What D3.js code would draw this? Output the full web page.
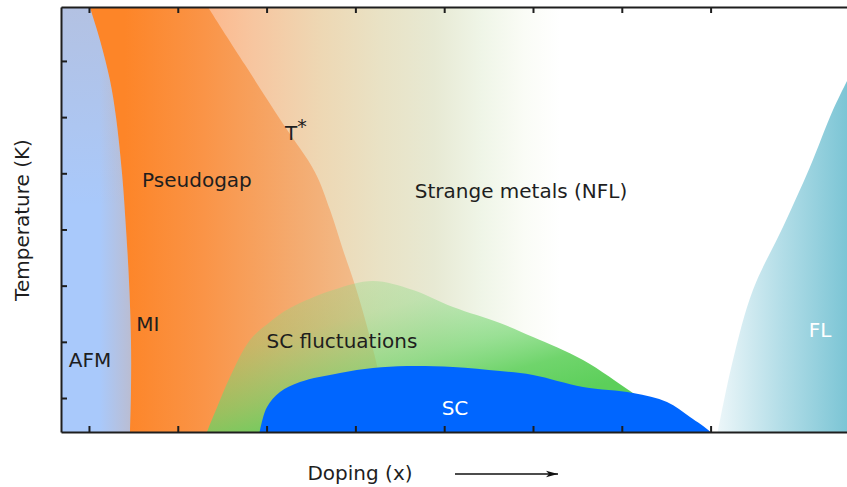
<!DOCTYPE html>
<html>
<head>
<meta charset="utf-8">
<script src="https://cdn.jsdelivr.net/npm/d3@7"></script>
<style>
  body { margin: 0; background: #fff; }
  svg { display: block; }
  text { font-family: "DejaVu Sans", sans-serif; }
</style>
</head>
<body>
<svg id="chart" width="847" height="487"></svg>
<script>
// Tick positions (unlabelled) on doping and temperature axes
const xTicks = [1, 2, 3, 4, 5, 6, 7, 8];
const yTicks = [1, 2, 3, 4, 5, 6, 7];

// Phase boundaries, in doping / temperature units
const afmX = [0.97, 1.011, 1.124, 1.236, 1.304, 1.372, 1.417, 1.450, 1.473, 1.473, 1.462, 1.46];
const afmY = [8.2, 7.96, 7.37, 6.66, 6.00, 5.00, 4.01, 3.10, 2.03, 1.14, 0.40, 0.2];

const tStarX = [2.25, 2.340, 2.757, 3.185, 3.545, 3.714, 3.860, 3.995, 4.142, 4.277, 4.367];
const tStarY = [8.2, 7.96, 6.93, 5.88, 5.02, 4.35, 3.64, 3.01, 2.21, 1.32, 0.25];

const flucX = [2.30, 2.329, 2.453, 2.588, 2.813, 3.038, 3.264, 3.748, 4.198, 4.649, 5.099, 5.628, 6.000, 6.563, 7.126, 7.430];
const flucY = [0.25, 0.395, 0.876, 1.374, 2.033, 2.353, 2.602, 2.923, 3.083, 2.923, 2.620, 2.336, 2.086, 1.677, 1.090, 0.787];

const scX = [2.903, 2.926, 3.005, 3.151, 3.376, 3.827, 4.198, 4.581, 5.099, 5.628, 6.000, 6.563, 7.126, 7.509, 7.768, 8.016, 8.03];
const scY = [0.253, 0.431, 0.840, 1.107, 1.285, 1.446, 1.535, 1.570, 1.553, 1.481, 1.410, 1.196, 1.090, 0.930, 0.663, 0.360, 0.253];

const flX = [8.061, 8.084, 8.252, 8.477, 8.815, 9.119, 9.378, 9.570];
const flY = [0.253, 0.431, 1.677, 2.923, 4.044, 5.112, 6.127, 6.750];

// Region labels: [text, doping, temperature, colour]
const labels = [
  ["AFM", 1.011, 1.56, "#1e1e1e"],
  ["MI", 1.664, 2.20, "#1e1e1e"],
  ["Pseudogap", 2.216, 4.76, "#1e1e1e"],
  ["Strange metals (NFL)", 5.865, 4.56, "#1e1e1e"],
  ["SC fluctuations", 3.849, 1.89, "#1e1e1e"],
  ["SC", 5.122, 0.697, "#ffffff"],
  ["FL", 9.232, 2.085, "#ffffff"]
];

const x = d3.scaleLinear().domain([0.685, 9.536]).range([61, 847]);
const y = d3.scaleLinear().domain([0.395, 7.96]).range([432, 7]);

const svg = d3.select("#chart");
const defs = svg.append("defs");

defs.append("clipPath").attr("id", "plot")
  .append("rect").attr("x", x(0.685)).attr("y", y(7.96))
  .attr("width", x(9.536) - x(0.685)).attr("height", y(0.395) - y(7.96));

function gradient(id, x1, y1, x2, y2, stops) {
  const g = defs.append("linearGradient").attr("id", id)
    .attr("gradientUnits", "userSpaceOnUse")
    .attr("x1", x1).attr("y1", y1).attr("x2", x2).attr("y2", y2);
  stops.forEach(s => g.append("stop").attr("offset", s[0])
    .attr("stop-color", s[1]).attr("stop-opacity", s[2] === undefined ? 1 : s[2]));
}

// strange-metal crossover: peach -> beige -> pale green -> white
gradient("gStrange", x(2.25), 0, x(6.31), 0, [
  [0, "#fdb68a"], [0.15, "#f7c6a0"], [0.33, "#eed7b3"], [0.5, "#e9e2c5"],
  [0.65, "#e7e9d3"], [0.78, "#eff5e7"], [0.9, "#fafcf6"], [1, "#ffffff"]
]);
// pseudogap: saturated orange fading toward T*
gradient("gPseudo", x(1.40), 0, x(4.39), 0, [
  [0, "#fd8528"], [0.3, "#fa9447"], [0.65, "#f4ab70"], [1, "#f0c498"]
]);
// AFM tint toward the boundary and toward high temperature
gradient("gAfmH", x(1.12), 0, x(1.48), 0, [
  [0, "#fd8a2d", 0], [1, "#fd8a2d", 0.2]
]);
gradient("gAfmV", 0, y(7.96), 0, y(4.4), [
  [0, "#fd8a2d", 0.12], [1, "#fd8a2d", 0]
]);
// superconducting fluctuations
gradient("gFluc", x(3.94), y(3.46), x(4.50), y(0.25), [
  [0, "#8fdc8a", 0.3], [0.3, "#80d87a", 0.38], [0.6, "#6cd468", 0.66],
  [0.8, "#60d05c", 0.9], [1, "#5ccf5a", 1]
]);
// Fermi liquid
gradient("gFL", x(8.08), 0, x(9.536), 0, [
  [0, "#ecf6f9"], [0.5, "#b2dde7"], [1, "#7cc5d5"]
]);

const curve = d3.line().x(d => x(d[0])).y(d => y(d[1])).curve(d3.curveCatmullRom.alpha(0.5));
const pts = (xs, ys) => xs.map((v, i) => [v, ys[i]]);
const region = (xs, ys, closing) =>
  curve(pts(xs, ys)) + closing.map(p => `L${x(p[0])},${y(p[1])}`).join("") + "Z";

const plot = svg.append("g").attr("clip-path", "url(#plot)");

plot.append("rect").attr("x", x(0.685)).attr("y", y(7.96))
  .attr("width", x(9.536) - x(0.685)).attr("height", y(0.395) - y(7.96))
  .attr("fill", "url(#gStrange)");

plot.append("path").attr("d", region(tStarX, tStarY, [[0.5, 0.2], [0.5, 8.2]]))
  .attr("fill", "url(#gPseudo)");

const afmPath = region(afmX, afmY, [[0.5, 0.2], [0.5, 8.2]]);
plot.append("path").attr("d", afmPath).attr("fill", "#a9c9fb");
plot.append("path").attr("d", afmPath).attr("fill", "url(#gAfmH)");
plot.append("path").attr("d", afmPath).attr("fill", "url(#gAfmV)");

plot.append("path").attr("d", region(flucX, flucY, [[7.43, 0.2], [2.30, 0.2]]))
  .attr("fill", "url(#gFluc)");

plot.append("path").attr("d", region(scX, scY, []))
  .attr("fill", "#0066ff");

plot.append("path").attr("d", region(flX, flY, [[9.8, 6.75], [9.8, 0.2]]))
  .attr("fill", "url(#gFL)");

// frame and inward ticks
const axisColor = "#1e1e1e";
function styleAxis(g) {
  g.selectAll("text").remove();
  g.selectAll("line").attr("stroke", axisColor).attr("stroke-width", 2);
  g.select(".domain").attr("stroke", axisColor).attr("stroke-width", 2);
}
svg.append("g").attr("transform", `translate(0,${y(0.395)})`)
  .call(d3.axisBottom(x).tickValues(xTicks).tickSizeInner(-6).tickSizeOuter(0).tickFormat(""))
  .call(styleAxis);
svg.append("g").attr("transform", `translate(0,${y(7.96)})`)
  .call(d3.axisTop(x).tickValues(xTicks).tickSizeInner(-6).tickSizeOuter(0).tickFormat(""))
  .call(styleAxis);
svg.append("g").attr("transform", `translate(${x(0.685)},0)`)
  .call(d3.axisLeft(y).tickValues(yTicks).tickSizeInner(-6).tickSizeOuter(0).tickFormat(""))
  .call(styleAxis);

// region labels
svg.append("g").selectAll("text").data(labels).join("text")
  .attr("x", d => x(d[1])).attr("y", d => y(d[2]))
  .attr("text-anchor", "middle").attr("font-size", 20)
  .attr("fill", d => d[3]).text(d => d[0]);

// T* label with superscript
const tLabel = svg.append("text").attr("x", x(3.207)).attr("y", y(5.60))
  .attr("font-size", 20).attr("fill", "#1e1e1e");
tLabel.append("tspan").text("T");
tLabel.append("tspan").attr("dy", -7).attr("font-size", 19).text("*");

// axis titles
svg.append("text").attr("transform", "translate(29,220) rotate(-90)")
  .attr("text-anchor", "middle").attr("font-size", 20).attr("fill", "#1e1e1e")
  .text("Temperature (K)");
svg.append("text").attr("x", 360).attr("y", 480)
  .attr("text-anchor", "middle").attr("font-size", 20).attr("fill", "#1e1e1e")
  .text("Doping (x)");

// direction-of-doping arrow
defs.append("marker").attr("id", "arrowHead")
  .attr("viewBox", "0 0 12 8").attr("refX", 12).attr("refY", 4)
  .attr("markerWidth", 12).attr("markerHeight", 8).attr("markerUnits", "userSpaceOnUse")
  .attr("orient", "auto")
  .append("path").attr("d", "M0,0.8 L12,4 L0,7.2 L3,4 Z").attr("fill", "#111");
svg.append("line").attr("x1", 455).attr("y1", 474).attr("x2", 558).attr("y2", 474)
  .attr("stroke", "#111").attr("stroke-width", 1.5).attr("marker-end", "url(#arrowHead)");
</script>
</body>
</html>
